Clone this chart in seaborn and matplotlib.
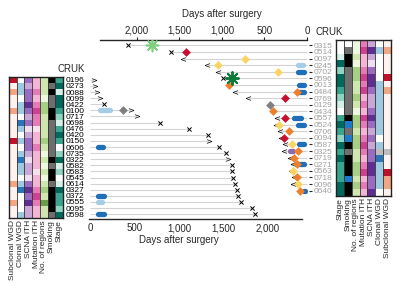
import numpy as np
import pandas as pd
import matplotlib
matplotlib.use('Agg')
import matplotlib.pyplot as plt
from matplotlib.colors import ListedColormap
import seaborn as sns

sns.set_style("white")
plt.rcParams['font.family'] = ['Liberation Sans', 'DejaVu Sans']

# ---------------- data ----------------
# top panel (relapse), rows top -> bottom
ids_top = ['0315', '0514', '0097', '0245', '0702', '0596', '0013', '0484', '0769', '0129', '0434', '0557',
           '0524', '0706', '0094', '0587', '0325', '0719', '0271', '0563', '0718', '0096', '0640']
end_top = [2105, 1600, 1458, 1176, 1047, 988, 917, 847, 694, 435, 400, 353,
           365, 318, 310, 260, 270, 200, 165, 190, 153, 165, 94]
endmark_top = ['x', 'x', '<', '<', '<', 'x', '', '<', '<', '', '', '<',
               '<', '<', '<', '<', '<', '<', '<', '<', '<', '<', '']
relapse_day = [1823, 1423, 730, 1047, 341, 882, 917, 118, 259, 435, 400, 259,
               330, 212, 270, 176, 106, 153, 118, 165, 118, 106, 82]
relapse_kind = ['star_light', 'red', 'yellow', 'yellow', 'yellow', 'star_dark', 'orange', 'orange', 'red', 'gray',
                'orange', 'red', 'yellow', 'orange', 'red', 'yellow', 'orange', 'orange', 'orange', 'yellow',
                'orange', 'yellow', 'orange']
pill_top_row = [3, 4, 6, 7, 11, 12, 15, 16, 18, 22]
pill_top_start = [50, 40, 30, 30, 75, 30, 30, 170, 30, 20]
pill_top_end = [110, 110, 90, 90, 150, 110, 90, 205, 80, 40]
pill_top_kind = ['light', 'dark', 'dark', 'dark', 'dark', 'dark', 'dark', 'purple', 'dark', 'dark']

# bottom panel (no relapse)
ids_bot = ['0196', '0273', '0088', '0099', '0422', '0100', '0717', '0698', '0476', '0420', '0150', '0606',
           '0735', '0322', '0582', '0583', '0545', '0614', '0327', '0372', '0555', '0095', '0598']
end_bot = [40, 60, 75, 110, 160, 460, 530, 790, 1110, 1330, 1340, 1450,
           1530, 1545, 1590, 1600, 1610, 1630, 1650, 1660, 1700, 1820, 1850]
endmark_bot = ['>', '>', '>', '>', 'x', '>', '>', 'x', 'x', 'x', '>', 'x',
               'x', '>', 'x', 'x', 'x', 'x', 'x', 'x', 'x', 'x', 'x']
gray_bot_row = [5]
gray_bot_day = [370]
pill_bot_row = [5, 11, 19, 20, 22]
pill_bot_start = [110, 85, 85, 85, 85]
pill_bot_end = [220, 140, 160, 130, 160]
pill_bot_kind = ['light', 'dark', 'dark', 'light', 'dark']

# clinical heatmap levels
stage_top = [0, 0, 1, 4, 2, 4, 4, 3, 2, 1, 0, 3, 4, 3, 2, 4, 3, 4, 3, 3, 3, 4, 4]
smoke_top = [0, 2, 3, 3, 2, 2, 2, 2, 2, 2, 2, 3, 4, 2, 4, 3, 2, 3, 3, 3, 4, 3, 3]
region_top = [0, 0, 1, 0, 2, 2, 1, 1, 2, 1, 0, 2, 2, 1, 2, 2, 1, 1, 2, 2, 1, 2, 1]
mut_top = [2, 3, 1, 1, 2, 3, 2, 3, 1, 2, 1, 3, 2, 1, 2, 3, 2, 1, 2, 3, 1, 2, 1]
scna_top = [1, 3, 1, 0, 2, 3, 3, 2, 1, 1, 2, 3, 2, 1, 2, 1, 2, 2, 3, 3, 2, 2, 3]
cwgd_top = [0, 1, 0, 0, 0, 0, 1, 1, 1, 1, 1, 1, 1, 1, 0, 1, 3, 2, 1, 1, 1, 1, 0]
swgd_top = [0, 1, 0, 0, 0, 2, 0, 1, 0, 0, 0, 0, 0, 0, 0, 0, 3, 0, 0, 2, 1, 1, 0]

swgd_bot = [2, 0, 1, 0, 0, 1, 0, 0, 0, 0, 2, 0, 0, 0, 0, 0, 0, 1, 0, 0, 1, 0, 0]
cwgd_bot = [0, 1, 1, 0, 1, 1, 0, 2, 1, 0, 1, 0, 1, 2, 1, 1, 0, 1, 2, 0, 0, 0, 1]
scna_bot = [2, 1, 2, 2, 3, 2, 1, 2, 0, 1, 2, 2, 1, 0, 1, 1, 0, 2, 3, 2, 3, 1, 1]
mut_bot = [1, 1, 2, 1, 2, 3, 2, 2, 0, 1, 1, 2, 1, 1, 1, 0, 1, 1, 2, 3, 2, 1, 1]
region_bot = [1, 1, 1, 0, 2, 2, 1, 1, 1, 1, 2, 1, 0, 1, 0, 1, 0, 1, 2, 1, 3, 1, 1]
smoke_bot = [3, 2, 3, 2, 2, 3, 3, 2, 2, 2, 2, 2, 2, 3, 2, 3, 3, 2, 3, 3, 3, 3, 2]
stage_bot = [3, 4, 1, 4, 4, 3, 2, 1, 3, 4, 3, 0, 2, 4, 1, 2, 0, 1, 4, 3, 3, 2, 4]

cols_right = ['Stage', 'Smoking', 'No. of regions', 'Mutation ITH', 'SCNA ITH', 'Clonal WGD', 'Subclonal WGD']
cols_left = cols_right[::-1]

# ---------------- styles ----------------
pal = {
    'Stage': ['#ffffff', '#d5efe9', '#8fd3c1', '#3aa58e', '#00695c'],
    'Smoking': ['#ffffff', '#bbbbbb', '#6e6e6e', '#000000', '#1f78c8'],
    'No. of regions': ['#eef7e0', '#cfe6b0', '#a6cf85', '#6b9e4a'],
    'Mutation ITH': ['#fbe0ee', '#f5b3d6', '#e67ab8', '#cf3f92'],
    'SCNA ITH': ['#eee0f0', '#c9a8d8', '#9a6cbf', '#5e2f91'],
    'Clonal WGD': ['#ffffff', '#9ecae1', '#2a74b8', '#bdbdbd'],
    'Subclonal WGD': ['#fff2ee', '#f4a582', '#c0102a', '#bdbdbd'],
}
mark_col = {'red': '#c8102e', 'orange': '#f07f2a', 'yellow': '#fbd363', 'gray': '#7f7f7f',
            'star_light': '#7ccf7c', 'star_dark': '#0e7b3a'}
pill_col = {'dark': '#1f6fb8', 'light': '#a6cde8', 'purple': '#8a6bb0'}
line_col = '#d3d3d3'
FS = 7

fig = plt.figure(figsize=(4, 3), dpi=100)


def px(x0, y0, x1, y1):
    return [x0 / 400, 1 - y1 / 300, (x1 - x0) / 400, (y1 - y0) / 300]


def draw_heat(ax, levels, cols):
    colors, offs = [], {}
    for c in cols:
        offs[c] = len(colors)
        colors += pal[c]
    mat = np.array([[offs[c] + v for c, v in zip(cols, col)] for col in zip(*levels)])
    df = pd.DataFrame(mat, columns=cols)
    sns.heatmap(df, cmap=ListedColormap(colors), vmin=-0.5, vmax=len(colors) - 0.5,
                cbar=False, ax=ax, yticklabels=False, xticklabels=True)
    for i in range(1, len(cols)):
        ax.axvline(i, color='#333333', lw=0.6)
    for s in ax.spines.values():
        s.set_visible(True)
        s.set_color('#222222')
        s.set_linewidth(1.0)
    ax.tick_params(axis='x', length=0, pad=1.5, labelsize=6)
    ax.set_xticklabels(cols, rotation=90)
    ax.set_ylabel('')


def draw_swim(ax, ends, marks, mark_char):
    rows = np.arange(len(ends))
    ax.hlines(rows, 0, ends, color=line_col, lw=0.8, zorder=1)
    d = pd.DataFrame({'day': ends, 'row': rows, 'm': marks})
    sns.scatterplot(data=d[d.m == 'x'], x='day', y='row', marker='x', s=9, color='black',
                    linewidth=0.7, ax=ax, zorder=4)
    sns.scatterplot(data=d[d.m == mark_char], x='day', y='row', marker='$' + mark_char + '$', s=14,
                    color='black', linewidth=0, ax=ax, zorder=4)


def draw_pills(ax, rows, starts, stops, kinds):
    for k in pill_col:
        sel = [i for i, kk in enumerate(kinds) if kk == k]
        if sel:
            ax.hlines([rows[i] for i in sel], [starts[i] for i in sel], [stops[i] for i in sel],
                      color=pill_col[k], lw=3.8, capstyle='round', zorder=3, clip_on=False)


# ---------------- top panel ----------------
ax1 = fig.add_axes(px(100, 40, 309, 196))
ax1.set_facecolor('none')
draw_swim(ax1, end_top, endmark_top, '<')
rel = pd.DataFrame({'day': relapse_day, 'row': np.arange(len(relapse_day)), 'k': relapse_kind})
for k in ['red', 'orange', 'yellow', 'gray']:
    sns.scatterplot(data=rel[rel.k == k], x='day', y='row', marker='D', s=20, color=mark_col[k],
                    linewidth=0, ax=ax1, zorder=5)
sns.scatterplot(data=rel[rel.k == 'star_light'], x='day', y='row', marker=(8, 2, 0), s=75,
                color=mark_col['star_light'], edgecolor=mark_col['star_light'], linewidth=1.2, ax=ax1, zorder=5)
sns.scatterplot(data=rel[rel.k == 'star_dark'], x='day', y='row', marker=(8, 2, 0), s=85,
                color=mark_col['star_dark'], edgecolor=mark_col['star_dark'], linewidth=1.4, ax=ax1, zorder=5)
draw_pills(ax1, pill_top_row, pill_top_start, pill_top_end, pill_top_kind)
ax1.set_xlim(2435, -24)
ax1.set_ylim(22.8, -0.8)
for s in ['left', 'right', 'bottom']:
    ax1.spines[s].set_visible(False)
ax1.spines['top'].set_bounds(0, 2435)
ax1.spines['top'].set_linewidth(1.0)
ax1.xaxis.tick_top()
ax1.set_xticks([0, 500, 1000, 1500, 2000])
ax1.set_xticklabels(['0', '500', '1,000', '1,500', '2,000'])
ax1.tick_params(axis='x', length=2, width=0.8, pad=1, labelsize=FS)
ax1.xaxis.set_label_position('top')
ax1.set_xlabel('Days after surgery', fontsize=FS, labelpad=4)
ax1.xaxis.set_label_coords(0.585, 1.145)
ax1.yaxis.tick_right()
ax1.set_yticks(np.arange(len(ids_top)))
ax1.set_yticklabels(ids_top, color='#a0a0a0')
ax1.tick_params(axis='y', length=2, width=0.8, pad=1.5, labelsize=6)
ax1.set_ylabel('')

hm_r = fig.add_axes(px(336, 40, 391, 196))
draw_heat(hm_r, [stage_top, smoke_top, region_top, mut_top, scna_top, cwgd_top, swgd_top], cols_right)
fig.text(315 / 400, 1 - 32 / 300, 'CRUK', fontsize=FS, va='center')

# ---------------- bottom panel ----------------
ax2 = fig.add_axes(px(89, 75, 302, 219))
ax2.set_facecolor('none')
draw_swim(ax2, end_bot, endmark_bot, '>')
gb = pd.DataFrame({'day': gray_bot_day, 'row': gray_bot_row})
sns.scatterplot(data=gb, x='day', y='row', marker='D', s=20, color=mark_col['gray'], linewidth=0,
                ax=ax2, zorder=5)
draw_pills(ax2, pill_bot_row, pill_bot_start, pill_bot_end, pill_bot_kind)
ax2.set_xlim(-12, 2382)
ax2.set_ylim(22.8, -0.8)
for s in ['left', 'right', 'top']:
    ax2.spines[s].set_visible(False)
ax2.spines['bottom'].set_linewidth(1.0)
ax2.set_xticks([0, 500, 1000, 1500, 2000])
ax2.set_xticklabels(['0', '500', '1,000', '1,500', '2,000'])
ax2.tick_params(axis='x', length=2, width=0.8, pad=1, labelsize=FS)
ax2.set_xlabel('Days after surgery', fontsize=FS, labelpad=2)
ax2.xaxis.set_label_coords(0.423, -0.11)
ax2.set_yticks(np.arange(len(ids_bot)))
ax2.set_yticklabels(ids_bot, color='black')
ax2.tick_params(axis='y', length=2, width=0.8, pad=1.5, labelsize=6)
ax2.set_ylabel('')

hm_l = fig.add_axes(px(9, 77, 63, 218))
draw_heat(hm_l, [swgd_bot, cwgd_bot, scna_bot, mut_bot, region_bot, smoke_bot, stage_bot], cols_left)
fig.text(58 / 400, 1 - 69 / 300, 'CRUK', fontsize=FS, va='center')

fig.savefig('out.png', dpi=100)
